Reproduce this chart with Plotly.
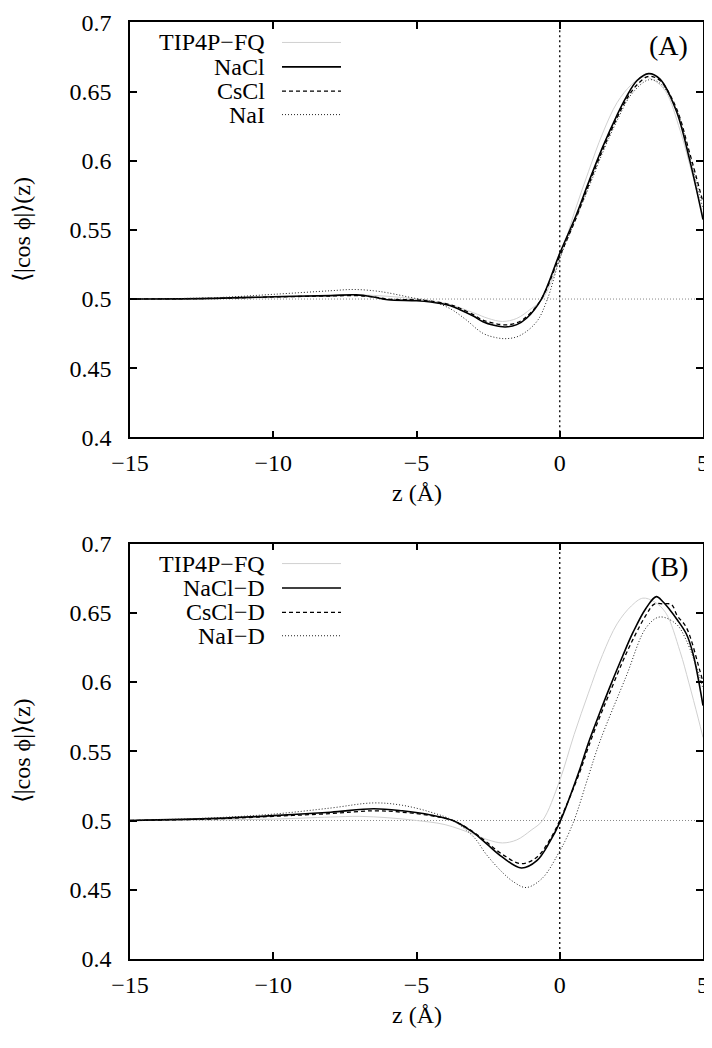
import plotly.graph_objects as go
from plotly.subplots import make_subplots

# ---------------- data ----------------
z_tip = [-15, -12, -10, -8, -7, -6, -5, -4, -3, -2.5, -2, -1.5, -1, -0.6, 0, 0.5, 1, 1.5, 2, 2.5, 2.9, 3.3, 3.7, 4.2, 4.5, 4.83, 5]
v_tip = [0.5, 0.5005, 0.501, 0.5025, 0.503, 0.502, 0.5, 0.497, 0.490, 0.486, 0.4838, 0.486, 0.493, 0.5, 0.529, 0.562, 0.592, 0.620, 0.642, 0.655, 0.6606, 0.658, 0.650, 0.622, 0.600, 0.574, 0.560]

z_nacl = [-15, -12, -10, -8, -7.1, -6.5, -6, -5, -4.5, -3.84, -3.5, -3, -2.68, -2.3, -1.9, -1.5, -1.16, -0.64, 0, 0.58, 1, 1.5, 2, 2.32, 2.7, 3.1, 3.5, 4.07, 4.53, 5]
v_nacl = [0.5, 0.5005, 0.5017, 0.5025, 0.503, 0.5015, 0.4995, 0.4988, 0.4978, 0.4953, 0.4925, 0.4875, 0.4835, 0.481, 0.4798, 0.4815, 0.4861, 0.5, 0.533, 0.561, 0.584, 0.610, 0.633, 0.646, 0.658, 0.663, 0.659, 0.636, 0.601, 0.5575]

z_cscl = z_nacl
v_cscl = [0.5, 0.5005, 0.5015, 0.5022, 0.5025, 0.5015, 0.5, 0.4993, 0.4985, 0.496, 0.4935, 0.4885, 0.4848, 0.4825, 0.4813, 0.4828, 0.4872, 0.5, 0.531, 0.559, 0.582, 0.608, 0.631, 0.644, 0.655, 0.661, 0.658, 0.638, 0.606, 0.570]

z_nai = [-15, -12, -10, -8, -7.2, -6.5, -6, -5, -4.5, -3.84, -3.3, -2.68, -2.2, -1.83, -1.4, -0.81, -0.43, 0, 0.6, 1, 1.5, 2, 2.5, 3.1, 3.5, 4.07, 4.53, 5]
v_nai = [0.5, 0.501, 0.5034, 0.506, 0.5069, 0.506, 0.5045, 0.5003, 0.4985, 0.4932, 0.4855, 0.4752, 0.472, 0.4714, 0.4735, 0.4835, 0.5, 0.529, 0.560, 0.580, 0.606, 0.629, 0.648, 0.6585, 0.656, 0.637, 0.604, 0.565]

z_nacl_d = [-15, -12, -10, -8, -6.5, -5.5, -4.5, -3.73, -3, -2.56, -2, -1.34, -0.8, -0.35, 0, 0.7, 1.0, 1.4, 1.74, 2.2, 2.56, 3, 3.37, 3.6, 3.84, 4.1, 4.42, 4.65, 5]
v_nacl_d = [0.5, 0.5015, 0.5035, 0.506, 0.5085, 0.507, 0.504, 0.5, 0.491, 0.4833, 0.4735, 0.4657, 0.471, 0.4845, 0.4986, 0.537, 0.556, 0.578, 0.596, 0.619, 0.636, 0.653, 0.6617, 0.658, 0.6523, 0.645, 0.6347, 0.6206, 0.583]

z_cscl_d = [-15, -12, -10, -8, -6.5, -5.5, -4.5, -3.73, -3, -2.56, -2, -1.34, -0.8, -0.35, 0, 0.7, 1.0, 1.4, 1.74, 2.2, 2.56, 3, 3.3, 3.6, 3.9, 4.1, 4.42, 4.88, 5]
v_cscl_d = [0.5, 0.5012, 0.503, 0.505, 0.507, 0.506, 0.5035, 0.5, 0.4915, 0.4845, 0.4755, 0.4688, 0.4735, 0.486, 0.5, 0.535, 0.553, 0.575, 0.592, 0.615, 0.631, 0.648, 0.6563, 0.6565, 0.656, 0.648, 0.6394, 0.609, 0.600]

z_nai_d = [-15, -12, -10, -8, -6.5, -5.5, -4.5, -3.73, -3, -2.56, -2, -1.6, -1.17, -0.6, 0, 0.17, 0.5, 1.0, 1.4, 2.32, 3.02, 3.49, 4.07, 4.42, 4.88, 5]
v_nai_d = [0.5, 0.502, 0.5046, 0.509, 0.5127, 0.511, 0.506, 0.5, 0.488, 0.4754, 0.4625, 0.4555, 0.4516, 0.4585, 0.478, 0.4845, 0.5, 0.532, 0.557, 0.6042, 0.6394, 0.647, 0.6418, 0.630, 0.604, 0.595]

labels_a = ["TIP4P\u2212FQ", "NaCl", "CsCl", "NaI"]
labels_b = ["TIP4P\u2212FQ", "NaCl\u2212D", "CsCl\u2212D", "NaI\u2212D"]
panel_tags = ["(A)", "(B)"]

x_ticks = [-15, -10, -5, 0, 5]
x_ticktext = ["\u221215", "\u221210", "\u22125", "0", "5"]
y_ticks = [0.4, 0.45, 0.5, 0.55, 0.6, 0.65, 0.7]
y_ticktext = ["0.4", "0.45", "0.5", "0.55", "0.6", "0.65", "0.7"]
x_range = [-15, 5]
y_range = [0.4, 0.7]
ref_y = 0.5
ref_x = 0

# ---------------- styling ----------------
FONT = "Liberation Serif"
FS = 24
OFF = 8                      # page body margin offset
W, H = 712 - OFF, 1048 - OFF
L, R = 130 - OFF, 703 - OFF
A_TOP, A_BOT = 9.5 - OFF, 435 - OFF
B_TOP, B_BOT = 544 - OFF, 970 - OFF

styles = [
    dict(color="#d0d0d0", width=1.0, dash="solid"),
    dict(color="black", width=1.6, dash="solid"),
    dict(color="black", width=1.3, dash="4px,3px"),
    dict(color="#222222", width=1.0, dash="1px,2px"),
]

fig = make_subplots(rows=2, cols=1)

series_a = [(z_tip, v_tip), (z_nacl, v_nacl), (z_cscl, v_cscl), (z_nai, v_nai)]
series_b = [(z_tip, v_tip), (z_nacl_d, v_nacl_d), (z_cscl_d, v_cscl_d), (z_nai_d, v_nai_d)]

for row, series in [(1, series_a), (2, series_b)]:
    fig.add_trace(go.Scatter(x=x_range, y=[ref_y, ref_y], mode="lines",
                             line=dict(color="#888888", width=1, dash="1px,2px"),
                             showlegend=False, hoverinfo="skip"), row=row, col=1)
    fig.add_trace(go.Scatter(x=[ref_x, ref_x], y=y_range, mode="lines",
                             line=dict(color="black", width=1.3, dash="2px,3px"),
                             showlegend=False, hoverinfo="skip"), row=row, col=1)
    for (zz, vv), st in zip(series, styles):
        fig.add_trace(go.Scatter(x=zz, y=vv, mode="lines", line_shape="spline",
                                 line=st, showlegend=False), row=row, col=1)


def fy(py):
    return 1 - py / H


def fx(px):
    return (px - L) / (R - L)


fig.update_layout(
    width=W, height=H,
    margin=dict(l=L, r=W - R, t=0, b=0),
    paper_bgcolor="white", plot_bgcolor="white",
    font=dict(family=FONT, size=FS, color="black"),
    xaxis=dict(domain=[0, 1]),
    yaxis=dict(domain=[fy(A_BOT), fy(A_TOP)]),
    xaxis2=dict(domain=[0, 1]),
    yaxis2=dict(domain=[fy(B_BOT), fy(B_TOP)]),
)

axis_common = dict(showgrid=False, zeroline=False, showline=True, linecolor="black",
                   linewidth=1.5, mirror="ticks", ticks="inside", ticklen=7,
                   tickwidth=1.5, tickcolor="black", ticklabeloverflow="allow",
                   tickfont=dict(family=FONT, size=FS, color="black"))
fig.update_xaxes(range=x_range, tickvals=x_ticks, ticktext=x_ticktext,
                 ticklabelstandoff=3, **axis_common)
fig.update_yaxes(range=y_range, tickvals=y_ticks, ticktext=y_ticktext,
                 ticklabelstandoff=12, **axis_common)

leg_rows = [30, 55, 80, 104]
for i, (labels, top, bot) in enumerate([(labels_a, A_TOP, A_BOT), (labels_b, B_TOP, B_BOT)]):
    xr = "x domain" if i == 0 else "x2 domain"
    yr = "y domain" if i == 0 else "y2 domain"
    for k, (lab, st) in enumerate(zip(labels, styles)):
        py = top - 9.5 + leg_rows[k]
        yd = (bot - py) / (bot - top)
        fig.add_annotation(x=fx(267 - OFF), y=yd, xref=xr, yref=yr,
                           text=lab, showarrow=False, xanchor="right", yanchor="middle",
                           font=dict(family=FONT, size=FS, color="black"))
        fig.add_shape(type="line", xref=xr, yref=yr,
                      x0=fx(282 - OFF), x1=fx(341 - OFF), y0=yd, y1=yd,
                      line=dict(color=st["color"], width=st["width"], dash=st["dash"]))
    fig.add_annotation(x=fx(690 - OFF), y=(bot - (top + 24)) / (bot - top),
                       xref=xr, yref=yr, text=panel_tags[i], showarrow=False,
                       xanchor="right", yanchor="middle",
                       font=dict(family=FONT, size=28, color="black"))
    fig.add_annotation(x=0.5, y=fy(bot + 57), xref="paper", yref="paper",
                       text="z (\u00c5)", showarrow=False, xanchor="center", yanchor="middle",
                       font=dict(family=FONT, size=FS, color="black"))
    fig.add_annotation(x=fx(22 - OFF), y=fy((top + bot) / 2), xref="paper", yref="paper",
                       text="\u27e8|cos \u03d5|\u27e9(z)", showarrow=False, textangle=-90,
                       xanchor="center", yanchor="middle", borderpad=0,
                       font=dict(family=FONT, size=FS, color="black"))

fig.write_html("out.html")
